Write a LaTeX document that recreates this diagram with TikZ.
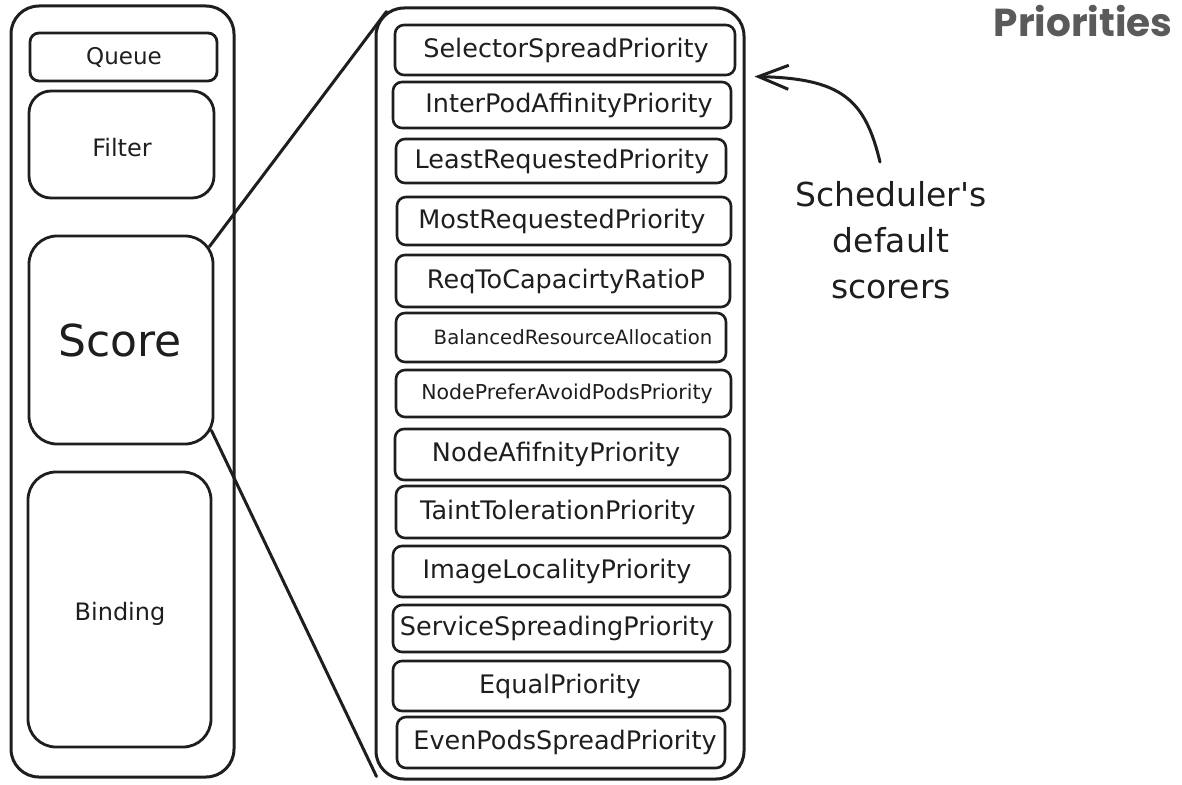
\documentclass[tikz,border=0pt]{standalone}
\usepackage{fontspec}
\setmainfont{DejaVu Sans}
\newfontfamily\headfont{Poppins}
\usetikzlibrary{fit,calc,arrows.meta}
\definecolor{ink}{HTML}{1E1E1E}
\definecolor{headgray}{HTML}{5A5A5A}
\begin{document}
\begin{tikzpicture}[x=1pt,y=-1pt,
  frame/.style={draw=ink, line width=3pt, rounded corners=28pt, inner sep=0pt},
  stage/.style={draw=ink, line width=2.8pt, inner sep=0pt},
  pbox/.style={draw=ink, line width=2.6pt, rounded corners=9pt, inner sep=0pt},
  ptext/.style={text=ink, inner sep=0pt},
  link/.style={draw=ink, line width=3pt, line cap=round},
  pointer/.style={draw=ink, line width=3pt, line cap=round, line join=round,
    -{Straight Barb[length=30pt,width=24pt,line width=3pt]}}]
\useasboundingbox (0,0) rectangle (1182,784);

% scheduling pipeline stages
\node[frame, fit={(11,6) (234,777)}] (pipeline) {};
\node[stage, rounded corners=9pt, fit={(30,33) (217,81)}] (queue) {};
\node[stage, rounded corners=22pt, fit={(29,91) (214,198)}] (filter) {};
\node[stage, rounded corners=28pt, fit={(29,236) (213,444)}] (score) {};
\node[stage, rounded corners=28pt, fit={(28,472) (211,747)}] (binding) {};

\node[ptext, font=\fontsize{23}{27}\selectfont] (queuet) at (124,57) {Queue};
\node[ptext, font=\fontsize{24}{28}\selectfont] (filtert) at (122,148) {Filter};
\node[ptext, font=\fontsize{44}{50}\selectfont] (scoret) at (120,340) {Score};
\node[ptext, font=\fontsize{24}{28}\selectfont] (bindingt) at (120,614) {Binding};

% list of scoring plugins
\node[frame, fit={(376,8) (744,779)}] (right) {};
\foreach \n/\xa/\ya/\xb/\yb/\tx/\lbl/\fs in {
  p1/395/25/735/75/566/SelectorSpreadPriority/25.5,
  p2/393/82/731/128/569/InterPodAffinityPriority/25.5,
  p3/396/139/726/183/562/LeastRequestedPriority/25.5,
  p4/397/197/731/245/562/MostRequestedPriority/25.5,
  p5/396/255/730/307/566/ReqToCapacirtyRatioP/25.5,
  p6/396/313/726/362/573/BalancedResourceAllocation/19.7,
  p7/396/370/731/417/567/NodePreferAvoidPodsPriority/20.5,
  p8/395/429/730/480/556/NodeAfifnityPriority/25.5,
  p9/396/486/730/538/558/TaintTolerationPriority/25.5,
  p10/393/546/730/597/557/ImageLocalityPriority/25.5,
  p11/393/605/730/652/557/ServiceSpreadingPriority/25.5,
  p12/393/661/730/711/560/EqualPriority/25.5,
  p13/397/717/725/768/565/EvenPodsSpreadPriority/25.5}{
  \node[pbox, fit={(\xa,\ya) (\xb,\yb)}] (\n) {};
  \node[ptext, font=\fontsize{\fs}{\fs}\selectfont] (\n t) at (\tx,{(\ya+\yb)/2}) {\lbl};
}

% zoom lines from the Score stage to the plugin list
\draw[link] ($(score.north east)+(-5,12)$) -- ($(right.north west)+(12,5)$);
\draw[link] ($(score.south east)+(-3,-15)$) -- ($(right.south west)+(2,-4)$);

% annotation
\node[ptext, align=center, font=\fontsize{33}{46}\selectfont] (note) at (891,240)
  {Scheduler\textquotesingle s\\default\\scorers};
\coordinate (tail) at ($(note.north)+(-11,-19)$);
\coordinate (tip) at ($(right.north east)+(9,70)$);
\draw[pointer] (tail) .. controls ($(tail)+(-15,-63)$) and ($(tip)+(87,2)$) .. (tip);

\node[text=headgray, inner sep=0pt, font=\headfont\bfseries\fontsize{39}{44}\selectfont]
  (title) at (1083,21) {Priorities};
\end{tikzpicture}
\end{document}
